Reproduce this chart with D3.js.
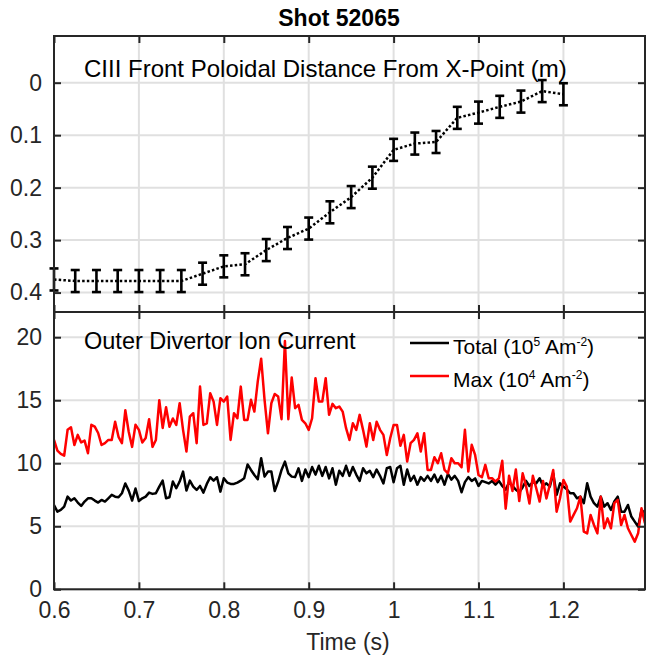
<!DOCTYPE html>
<html><head><meta charset="utf-8">
<script src="https://cdn.jsdelivr.net/npm/d3@7"></script>
<style>
body{margin:0;background:#fff}
svg{display:block}
text{font-family:"Liberation Sans",Arial,Helvetica,sans-serif}
</style>
</head><body>
<svg id="chart" width="646" height="658"></svg>
<script>
// ---------- data ----------
const frontTime = [0.6,0.625,0.65,0.675,0.7,0.725,0.75,0.775,0.8,0.825,0.85,0.875,0.9,0.925,0.95,0.975,1.0,1.025,1.05,1.075,1.1,1.125,1.15,1.175,1.2];
const frontDist = [0.375,0.378,0.378,0.378,0.378,0.378,0.378,0.364,0.350,0.346,0.319,0.296,0.278,0.247,0.218,0.181,0.128,0.116,0.113,0.067,0.057,0.046,0.036,0.016,0.022];
const frontErr  = [0.021,0.021,0.021,0.021,0.021,0.021,0.021,0.021,0.021,0.021,0.021,0.021,0.021,0.021,0.021,0.021,0.021,0.021,0.021,0.021,0.021,0.021,0.021,0.021,0.021];
const frontTicks = [0,0.1,0.2,0.3,0.4];
const ionTicks = [0,5,10,15,20];
const timeTicks = [0.6,0.7,0.8,0.9,1.0,1.1,1.2];
const timeTickLabels = ["0.6","0.7","0.8","0.9","1","1.1","1.2"];
const ionStart = 0.6, ionStep = 0.004;   // sampling of the ion current traces
const ionTotal = [
 6.69,6.16,6.3,6.56,7.35,7.04,7.22,6.88,6.61,6.96,
 7.22,7.22,7.04,6.88,7.09,6.96,7.22,7.49,7.35,7.3,
 7.62,8.4,7.83,7.04,8.0,7.0,7.22,7.35,7.67,7.57,
 7.62,8.15,8.62,7.22,7.3,8.55,
 8.02,8.55,9.34,7.83,8.62,8.15,7.88,8.2,7.67,8.36,
 8.89,8.62,8.89,7.75,8.81,8.47,8.36,8.36,8.47,8.62,
 8.81,9.9,9.47,9.07,8.73,10.4,8.94,9.34,9.34,7.8,
 8.55,9.47,10.13,9.2,8.94,
 8.9,9.6,8.6,9.5,8.9,9.7,9.1,9.8,9.0,9.7,
 8.8,9.6,8.3,9.4,9.0,9.8,9.0,9.7,9.1,8.6,
 9.6,9.2,9.4,8.9,9.5,9.0,8.4,9.6,9.7,8.5,
 9.6,9.8,8.3,9.5,8.6,
 9.0,8.3,8.9,8.6,9.0,8.6,9.1,8.5,9.0,8.3,
 9.15,8.7,9.0,8.6,7.7,8.5,8.9,8.6,8.8,8.2,
 8.6,8.5,8.4,8.6,8.3,8.6,8.2,7.9,8.5,8.2,
 7.9,7.7,8.1,8.6,8.2,8.5,
 8.41,8.81,8.2,8.41,8.15,9.2,7.49,8.41,8.15,7.94,
 7.62,7.62,7.22,7.35,6.83,8.41,7.35,6.83,6.56,7.35,
 6.56,6.83,6.3,6.96,7.35,6.16,6.16,6.69,5.77,5.37,
 4.97,6.3,6.03];
const ionMax = [
 11.85,11.0,10.74,10.6,12.65,12.85,11.45,12.25,11.65,11.8,
 10.8,13.05,12.9,12.4,11.45,11.6,11.85,11.85,13.3,12.1,
 11.6,14.2,12.5,11.3,13.05,12.65,11.65,12.0,13.5,11.3,
 11.85,15.0,12.8,14.45,12.9,13.55,
 13.04,14.76,12.65,10.93,13.7,13.97,11.59,16.08,13.04,13.17,
 15.56,14.89,13.04,15.16,14.89,15.3,11.85,13.97,13.57,16.08,
 13.44,13.44,15.03,14.1,16.5,18.3,15.03,12.38,14.76,15.5,
 15.3,13.5,19.7,13.5,16.8,
 14.37,14.63,13.44,13.17,12.65,13.57,16.75,14.89,14.89,16.75,
 13.84,14.71,14.37,14.5,14.1,12.78,11.85,13.17,12.65,13.84,
 12.65,11.32,13.17,11.85,13.3,12.65,12.25,10.66,11.98,13.04,
 13.04,11.38,12.25,10.13,11.59,
 11.85,12.38,10.93,12.38,9.47,9.47,10.48,10.0,10.79,9.47,
 9.2,10.4,10.0,10.0,9.68,12.65,9.34,11.46,10.66,9.07,
 8.89,9.87,8.81,8.81,8.55,8.8,10.2,6.4,9.0,7.8,
 9.5,7.0,9.2,8.2,6.8,9.0,
 8.02,6.96,8.6,7.2,8.3,9.47,6.16,7.22,8.68,8.15,
 5.37,5.9,6.43,7.35,4.58,4.44,5.9,5.1,4.44,7.35,
 4.84,5.63,4.84,6.83,7.09,5.1,5.9,4.84,4.31,3.78,
 4.44,6.43,5.24];

// ---------- layout ----------
const L = 54, R = 645, T1 = 36, B1 = 312, T2 = 312, B2 = 589.3;
const axisCol = "#262626", gridCol = "#e0e0e0";
const svg = d3.select("#chart");

const x = d3.scaleLinear().domain([0.6, 1.2961]).range([L, R]);
const y1 = d3.scaleLinear().domain([-0.089, 0.437]).range([T1, B1]);
const y2 = d3.scaleLinear().domain([0, 22]).range([B2, T2]);

function panel(yScale, yTicks, top, bottom) {
  const g = svg.append("g");
  g.append("g").selectAll("line").data(timeTicks).join("line")
    .attr("x1", d => x(d)).attr("x2", d => x(d)).attr("y1", top).attr("y2", bottom)
    .attr("stroke", gridCol).attr("stroke-width", 2);
  g.append("g").selectAll("line").data(yTicks).join("line")
    .attr("x1", L).attr("x2", R).attr("y1", d => yScale(d)).attr("y2", d => yScale(d))
    .attr("stroke", gridCol).attr("stroke-width", 2);
  return g;
}
function frame(yScale, yTicks, top, bottom, showX, fmt) {
  const g = svg.append("g");
  const style = sel => {
    sel.select(".domain").remove();
    sel.selectAll(".tick line").attr("stroke", axisCol).attr("stroke-width", 2);
    sel.selectAll(".tick text").attr("fill", axisCol).style("font-size", "23px");
  };
  g.append("g").attr("transform", `translate(${L},0)`)
    .call(d3.axisLeft(yScale).tickValues(yTicks).tickSize(-7).tickPadding(12).tickFormat(fmt))
    .call(style);
  g.append("g").attr("transform", `translate(${R},0)`)
    .call(d3.axisRight(yScale).tickValues(yTicks).tickSize(-7).tickFormat(""))
    .call(style);
  g.append("g").attr("transform", `translate(0,${top})`)
    .call(d3.axisTop(x).tickValues(timeTicks).tickSize(-7).tickFormat(""))
    .call(style);
  g.append("g").attr("transform", `translate(0,${bottom})`)
    .call(d3.axisBottom(x).tickValues(timeTicks).tickSize(-7).tickPadding(12)
      .tickFormat(showX ? ((d, i) => timeTickLabels[i]) : ""))
    .call(style);
  g.append("rect").attr("x", L).attr("y", top).attr("width", R - L).attr("height", bottom - top)
    .attr("fill", "none").attr("stroke", axisCol).attr("stroke-width", 2);
}

// ---------- top panel ----------
panel(y1, frontTicks, T1, B1);
const front = frontTime.map((t, i) => ({t, d: frontDist[i], e: frontErr[i]}));
svg.append("path").datum(front)
  .attr("d", d3.line().x(p => x(p.t)).y(p => y1(p.d)))
  .attr("fill", "none").attr("stroke", "#000").attr("stroke-width", 2.5)
  .attr("stroke-dasharray", "2.5,2.2");
const eb = svg.append("g").attr("stroke", "#000").attr("stroke-width", 2.6);
front.forEach(p => {
  const cx = x(p.t), ya = y1(p.d - p.e), yb = y1(p.d + p.e);
  eb.append("line").attr("x1", cx).attr("x2", cx).attr("y1", ya).attr("y2", yb);
  eb.append("line").attr("x1", cx - 4.5).attr("x2", cx + 4.5).attr("y1", ya).attr("y2", ya);
  eb.append("line").attr("x1", cx - 4.5).attr("x2", cx + 4.5).attr("y1", yb).attr("y2", yb);
});
frame(y1, frontTicks, T1, B1, false, d3.format(""));
svg.append("text").attr("x", 84).attr("y", 77).attr("fill", "#000")
  .style("font-size", "24px").text("CIII Front Poloidal Distance From X-Point (m)");

// ---------- bottom panel ----------
panel(y2, ionTicks, T2, B2);
svg.append("clipPath").attr("id", "clip2").append("rect")
  .attr("x", L).attr("y", T2).attr("width", R - L).attr("height", B2 - T2);
const ionLine = d3.line().x((v, i) => x(ionStart + i * ionStep)).y(v => y2(v));
svg.append("path").datum(ionTotal).attr("clip-path", "url(#clip2)")
  .attr("d", ionLine).attr("fill", "none").attr("stroke", "#000").attr("stroke-width", 2.5)
  .attr("stroke-linejoin", "round");
svg.append("path").datum(ionMax).attr("clip-path", "url(#clip2)")
  .attr("d", ionLine).attr("fill", "none").attr("stroke", "#ff0000").attr("stroke-width", 2.5)
  .attr("stroke-linejoin", "round");
frame(y2, ionTicks, T2, B2, true, d3.format(""));
svg.append("text").attr("x", 84).attr("y", 349).attr("fill", "#000")
  .style("font-size", "23.5px").text("Outer Divertor Ion Current");

// legend
const legend = [
  {col: "#000", name: "Total (10", exp: "5", y: 343},
  {col: "#ff0000", name: "Max (10", exp: "4", y: 376}
];
legend.forEach(l => {
  svg.append("line").attr("x1", 410).attr("x2", 449).attr("y1", l.y).attr("y2", l.y)
    .attr("stroke", l.col).attr("stroke-width", 2.5);
  const t = svg.append("text").attr("x", 453).attr("y", l.y + 11).attr("fill", "#000")
    .style("font-size", "21px");
  t.append("tspan").text(l.name);
  t.append("tspan").attr("dy", -8).style("font-size", "12px").text(l.exp);
  t.append("tspan").attr("dy", 8).text(" Am");
  t.append("tspan").attr("dy", -8).style("font-size", "12px").text("-2");
  t.append("tspan").attr("dy", 8).text(")");
});

// title and x label
svg.append("text").attr("x", 339).attr("y", 26).attr("text-anchor", "middle")
  .style("font-size", "23px").style("font-weight", "bold").attr("fill", "#000").text("Shot 52065");
svg.append("text").attr("x", 348).attr("y", 650).attr("text-anchor", "middle")
  .style("font-size", "23px").attr("fill", axisCol).text("Time (s)");
</script>
</body></html>
